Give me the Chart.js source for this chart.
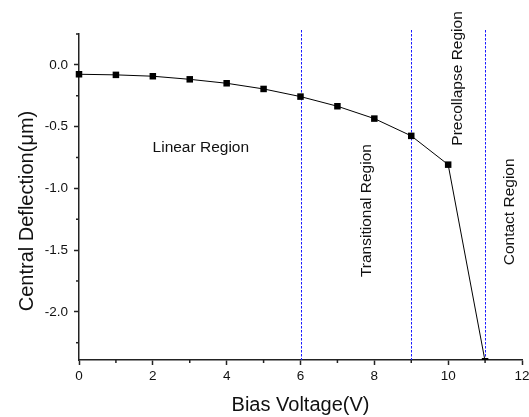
<!DOCTYPE html>
<html>
<head>
<meta charset="utf-8">
<script src="https://cdn.jsdelivr.net/npm/chart.js@4.4.0/dist/chart.umd.min.js"></script>
<style>
    html, body { margin: 0; padding: 0; background: #fff; }
    #wrap { width: 529px; height: 417px; }
</style>
</head>
<body>
<div id="wrap"><canvas id="chart"></canvas></div>
<script>
// bias voltage (V) and central deflection (um)
const voltages = [0, 1, 2, 3, 4, 5, 6, 7, 8, 9, 10, 11]
const deflections = [-0.076, -0.081, -0.092, -0.117, -0.149, -0.195, -0.257, -0.335, -0.435, -0.575, -0.808, -2.40]

const xMajorTicks = [0, 2, 4, 6, 8, 10, 12]
const xMinorTicks = [1, 3, 5, 7, 9, 11]
const yMajorTicks = [0, -0.5, -1.0, -1.5, -2.0]
const yMinorTicks = [0.25, -0.25, -0.75, -1.25, -1.75, -2.25]

// region boundaries (V) and region labels
const boundaries = [6, 9, 11]
const regionNames = ['Linear Region', 'Transitional Region', 'Precollapse Region', 'Contact Region']
// label anchor in data units (x, y) and rotation in degrees
const regionAnchors = [[3.3, -0.705, 0], [7.92, -1.18, -90], [10.38, -0.11, -90], [11.79, -1.19, -90]]

const xTitle = 'Bias Voltage(V)'
const yTitle = 'Central Deflection(\u03bcm)'

const axisColor = '#222'
const textColor = '#111'
const fontFamily = 'Arial, "Liberation Sans", sans-serif'

const decorPlugin = {
    id: 'decor',
    beforeDatasetsDraw(chart) {
        const ctx = chart.ctx
        const x = chart.scales.x
        const y = chart.scales.y
        const area = chart.chartArea
        // dotted region boundaries
        ctx.save()
        ctx.strokeStyle = '#1a1aff'
        ctx.lineWidth = 1
        ctx.setLineDash([2.5, 1.5])
        boundaries.forEach(v => {
            const px = Math.round(x.getPixelForValue(v)) + 0.5
            ctx.beginPath()
            ctx.moveTo(px, area.top - 4)
            ctx.lineTo(px, area.bottom)
            ctx.stroke()
        })
        ctx.restore()

        // region labels
        ctx.save()
        ctx.fillStyle = textColor
        ctx.font = `15.5px ${fontFamily}`
        ctx.textAlign = 'center'
        ctx.textBaseline = 'alphabetic'
        regionNames.forEach((name, i) => {
            const [vx, vy, rot] = regionAnchors[i]
            ctx.save()
            ctx.translate(x.getPixelForValue(vx), y.getPixelForValue(vy))
            ctx.rotate(rot * Math.PI / 180)
            ctx.fillText(name, 0, 0)
            ctx.restore()
        })
        ctx.restore()
    },
    afterDraw(chart) {
        const ctx = chart.ctx
        const x = chart.scales.x
        const y = chart.scales.y
        const area = chart.chartArea
        // minor ticks, shorter than the major ones
        ctx.save()
        ctx.strokeStyle = axisColor
        ctx.lineWidth = 1.5
        xMinorTicks.forEach(v => {
            const px = x.getPixelForValue(v)
            ctx.beginPath()
            ctx.moveTo(px, area.bottom)
            ctx.lineTo(px, area.bottom + 3)
            ctx.stroke()
        })
        yMinorTicks.forEach(v => {
            const py = y.getPixelForValue(v)
            ctx.beginPath()
            ctx.moveTo(area.left, py)
            ctx.lineTo(area.left - 3, py)
            ctx.stroke()
        })
        ctx.restore()

        // axis titles
        ctx.save()
        ctx.fillStyle = textColor
        ctx.font = `20px ${fontFamily}`
        ctx.textAlign = 'center'
        ctx.textBaseline = 'alphabetic'
        ctx.fillText(xTitle, (area.left + area.right) / 2, area.bottom + 51)
        ctx.translate(33, area.top + 177)
        ctx.rotate(-Math.PI / 2)
        ctx.fillText(yTitle, 0, 0)
        ctx.restore()
    }
}

new Chart(document.getElementById('chart'), {
    type: 'scatter',
    data: {
        datasets: [{
            data: voltages.map((v, i) => ({ x: v, y: deflections[i] })),
            showLine: true,
            borderColor: '#000',
            borderWidth: 1,
            backgroundColor: '#000',
            pointStyle: 'rect',
            pointRadius: 4.6,
            pointHoverRadius: 4.6,
            pointBorderWidth: 0,
            clip: { left: 10, top: 10, right: 10, bottom: 0 }
        }]
    },
    options: {
        responsive: true,
        maintainAspectRatio: false,
        animation: false,
        layout: { padding: { top: 34, right: 7, left: 0, bottom: 0 } },
        plugins: { legend: { display: false }, tooltip: { enabled: false } },
        scales: {
            x: {
                type: 'linear',
                min: 0,
                max: 12,
                afterBuildTicks: scale => { scale.ticks = xMajorTicks.map(v => ({ value: v })) },
                afterFit: scale => {
                    scale.height = 57
                    scale.paddingLeft = 0
                    scale.paddingRight = 0
                },
                ticks: {
                    color: textColor,
                    font: { family: fontFamily, size: 13.5 },
                    padding: 3,
                    maxRotation: 0,
                    callback: v => String(v)
                },
                grid: { drawOnChartArea: false, drawTicks: true, tickLength: 5, tickWidth: 1.5, tickColor: axisColor },
                border: { display: true, color: axisColor, width: 1.5 }
            },
            y: {
                type: 'linear',
                min: -2.39,
                max: 0.25,
                afterBuildTicks: scale => { scale.ticks = yMajorTicks.map(v => ({ value: v })) },
                afterFit: scale => {
                    scale.width = 79
                    scale.paddingTop = 0
                    scale.paddingBottom = 0
                },
                ticks: {
                    color: textColor,
                    font: { family: fontFamily, size: 13.5 },
                    padding: 6,
                    callback: v => v.toFixed(1)
                },
                grid: { drawOnChartArea: false, drawTicks: true, tickLength: 5, tickWidth: 1.5, tickColor: axisColor },
                border: { display: true, color: axisColor, width: 1.5 }
            }
        }
    },
    plugins: [decorPlugin]
})
</script>
</body>
</html>
